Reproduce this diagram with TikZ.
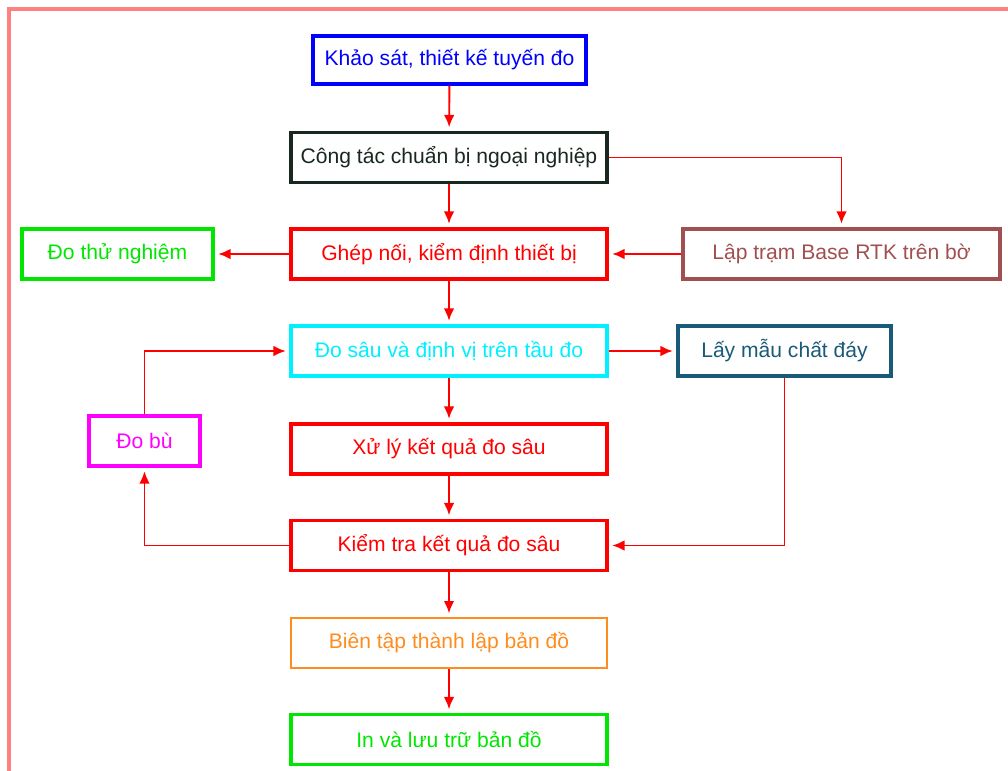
\documentclass[tikz,border=0pt]{standalone}
\usepackage{fontspec}
\setmainfont{Liberation Sans}
\usepackage{tikz}
\usepackage{xcolor}
\usetikzlibrary{arrows.meta,calc,positioning}

\definecolor{khungdo}{RGB}{255,128,128}
\definecolor{xanhduong}{RGB}{0,0,255}
\definecolor{dendam}{RGB}{25,40,30}
\definecolor{xanhla}{RGB}{0,230,0}
\definecolor{doden}{RGB}{255,0,0}
\definecolor{nau}{RGB}{160,80,80}
\definecolor{xanhlo}{RGB}{0,240,255}
\definecolor{xanhreu}{RGB}{25,90,120}
\definecolor{hong}{RGB}{255,0,255}
\definecolor{cam}{RGB}{255,140,30}

\begin{document}
\begin{tikzpicture}[x=0.02cm,y=-0.02cm,font=\large,every node/.style={draw,line width=2pt,rectangle,minimum height=1cm,inner sep=2pt},noi/.style={doden,line width=1.1pt,-{Latex[length=7pt,width=6pt]},shorten >=2pt}]
	\useasboundingbox (0,0) rectangle (1008,771);
	\draw[khungdo,line width=2.2pt] (9,771) -- (9,9) -- (1008,9);

	\node (khaosat) at (449.5,60) [xanhduong,text=xanhduong,minimum width=5.46cm,minimum height=0.96cm] {Khảo sát, thiết kế tuyến đo};
	\node (congtac) at (449,157.5) [dendam,text=dendam,minimum width=6.32cm] {Công tác chuẩn bị ngoại nghiệp};
	\node (dothu) at (117.5,254) [xanhla,text=xanhla,minimum width=3.82cm] {Đo thử nghiệm};
	\node (ghepnoi) at (449,254) [doden,text=doden,minimum width=6.32cm] {Ghép nối, kiểm định thiết bị};
	\node (laptram) at (841.5,254) [nau,text=nau,minimum width=6.34cm] {Lập trạm Base RTK trên bờ};
	\node (dosau) at (449,351) [xanhlo,text=xanhlo,minimum width=6.32cm] {Đo sâu và định vị trên tầu đo};
	\node (laymau) at (784.5,351) [xanhreu,text=xanhreu,minimum width=4.26cm] {Lấy mẫu chất đáy};
	\node (dobu) at (144.5,441) [hong,text=hong,minimum width=2.22cm] {Đo bù};
	\node (xuly) at (449,449) [doden,text=doden,minimum width=6.32cm] {Xử lý kết quả đo sâu};
	\node (kiemtra) at (449,545.5) [doden,text=doden,minimum width=6.32cm] {Kiểm tra kết quả đo sâu};
	\node (bientap) at (449,643) [cam,text=cam,line width=1.3pt,minimum width=6.32cm] {Biên tập thành lập bản đồ};
	\node (inluu) at (449,739.5) [xanhla,text=xanhla,minimum width=6.32cm] {In và lưu trữ bản đồ};

	\draw[noi] (khaosat) -- (congtac);
	\draw[noi] (congtac) -- (ghepnoi);
	\draw[noi] (congtac.east) -| (laptram.north);
	\draw[noi] (laptram) -- (ghepnoi);
	\draw[noi] (ghepnoi) -- (dothu);
	\draw[noi] (ghepnoi) -- (dosau);
	\draw[noi] (dosau) -- (laymau);
	\draw[noi] (laymau.south) |- (kiemtra.east);
	\draw[noi] (dosau) -- (xuly);
	\draw[noi] (xuly) -- (kiemtra);
	\draw[noi] (kiemtra.west) -| (dobu.south);
	\draw[noi] (dobu.north) |- (dosau.west);
	\draw[noi] (kiemtra) -- (bientap);
	\draw[noi] (bientap) -- (inluu);
\end{tikzpicture}
\end{document}
